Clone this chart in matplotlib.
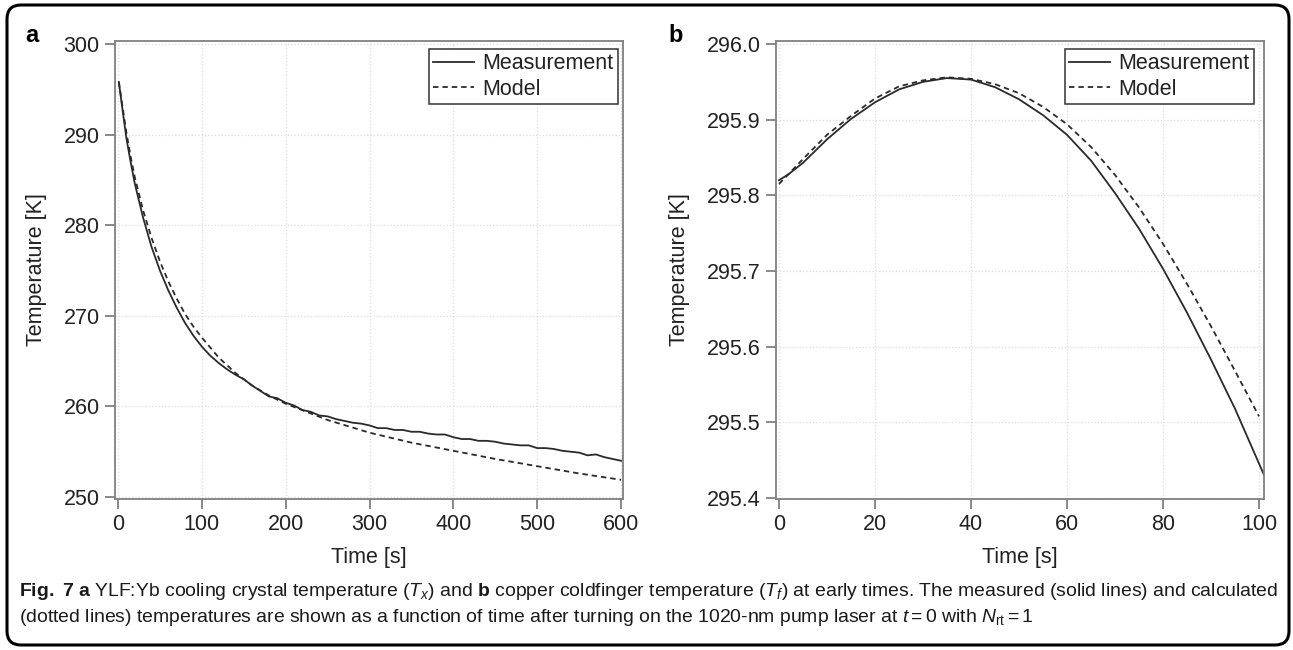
import matplotlib
matplotlib.use('Agg')
import matplotlib.pyplot as plt
from matplotlib import font_manager
from matplotlib.patches import FancyBboxPatch

# panel a: crystal temperature, 0-600 s
ta_meas = [1, 5, 10, 15, 20, 30, 40, 50, 60, 70, 80, 90, 100, 110, 120, 130, 140,
           150, 160, 170, 180, 190, 200, 210, 220, 230, 240, 250, 260, 270, 280, 290,
           300, 310, 320, 330, 340, 350, 360, 370, 380, 390, 400, 410, 420, 430, 440,
           450, 460, 470, 480, 490, 500, 510, 520, 530, 540, 550, 560, 570, 580, 590, 600]
Ta_meas = [295.8, 293.0, 289.6, 287.0, 284.6, 280.8, 277.6, 275.0, 272.8, 270.9, 269.2,
           267.8, 266.6, 265.6, 264.8, 264.1, 263.5, 263.0, 262.3, 261.7, 261.1, 260.9,
           260.4, 260.1, 259.6, 259.4, 259.0, 258.9, 258.6, 258.4, 258.2, 258.1, 257.9,
           257.6, 257.6, 257.4, 257.4, 257.2, 257.2, 257.0, 256.9, 256.9, 256.6, 256.4,
           256.4, 256.2, 256.2, 256.1, 255.9, 255.8, 255.7, 255.7, 255.4, 255.4, 255.3,
           255.1, 255.0, 254.9, 254.6, 254.7, 254.4, 254.2, 254.0]
ta_model = [1, 5, 10, 15, 20, 30, 40, 50, 60, 70, 80, 90, 100, 120, 140, 160, 180, 200,
            250, 300, 350, 400, 450, 500, 550, 600]
Ta_model = [295.8, 293.3, 290.2, 287.6, 285.3, 281.6, 278.6, 276.0, 273.8, 271.9, 270.2,
            268.8, 267.6, 265.4, 263.7, 262.3, 261.2, 260.3, 258.5, 257.1, 256.0, 255.1,
            254.2, 253.4, 252.6, 251.9]

# panel b: coldfinger temperature, 0-100 s
tb_meas = [0, 2, 5, 10, 15, 20, 25, 30, 35, 40, 45, 50, 55, 60, 65, 70, 75, 80, 85, 90, 95, 101]
Tb_meas = [295.820, 295.828, 295.843, 295.874, 295.901, 295.923, 295.940, 295.950, 295.955,
           295.953, 295.943, 295.927, 295.906, 295.880, 295.846, 295.803, 295.756, 295.703,
           295.645, 295.583, 295.518, 295.431]
tb_model = [0, 5, 10, 15, 20, 25, 30, 35, 40, 45, 50, 55, 60, 65, 70, 75, 80, 85, 90, 95, 100]
Tb_model = [295.815, 295.848, 295.880, 295.905, 295.928, 295.944, 295.952, 295.956, 295.954,
            295.947, 295.935, 295.917, 295.894, 295.864, 295.827, 295.784, 295.736, 295.683,
            295.627, 295.568, 295.508]

xticks_a = [0, 100, 200, 300, 400, 500, 600]
yticks_a = [250, 260, 270, 280, 290, 300]
xticks_b = [0, 20, 40, 60, 80, 100]
yticks_b = [295.4, 295.5, 295.6, 295.7, 295.8, 295.9, 296.0]

names = {f.name for f in font_manager.fontManager.ttflist}
main_font = 'Liberation Sans' if 'Liberation Sans' in names else 'DejaVu Sans'
cap_font = 'Liberation Sans Narrow' if 'Liberation Sans Narrow' in names else main_font

plt.rcParams['font.family'] = [main_font, 'DejaVu Sans']
plt.rcParams['mathtext.fontset'] = 'custom'
plt.rcParams['mathtext.rm'] = cap_font
plt.rcParams['mathtext.it'] = cap_font + ':italic'
plt.rcParams['mathtext.bf'] = cap_font + ':bold'

W, H = 1293, 650
fig = plt.figure(figsize=(W / 100, H / 100), dpi=100)

line_col = '#2a2a2a'
spine_col = '#808080'
fs = 15.5


def panel(left_px, width_px, t1, y1, t2, y2, xt, yt, xlim, ylim, fmt, leg_x, ylab_x):
    ax = fig.add_axes([left_px / W, 1 - 499 / H, width_px / W, 458 / H])
    ax.grid(True, color='#dcdcdc', linestyle=':', linewidth=0.9)
    ax.set_axisbelow(True)
    ax.plot(t1, y1, color=line_col, lw=1.3, label='Measurement')
    ax.plot(t2, y2, color=line_col, lw=1.3, linestyle=(0, (3, 2.2)), label='Model')
    ax.set_xlim(*xlim)
    ax.set_ylim(*ylim)
    ax.set_xticks(xt)
    ax.set_yticks(yt)
    ax.set_yticklabels([fmt.format(v) for v in yt])
    for s in ax.spines.values():
        s.set_color(spine_col)
        s.set_linewidth(1.3)
    ax.tick_params(direction='out', length=7, width=1.3, color=spine_col,
                   labelsize=fs, labelcolor='#222222', pad=4)
    ax.set_xlabel('Time [s]', fontsize=fs, color='#222222')
    ax.set_ylabel('Temperature [K]', fontsize=fs, color='#222222')
    ax.xaxis.set_label_coords(0.5, -0.105)
    ax.yaxis.set_label_coords(ylab_x, 0.5)
    leg = ax.legend(loc='upper right', bbox_to_anchor=(leg_x, 0.9825), borderaxespad=0,
                    fontsize=fs, fancybox=False, framealpha=1, handlelength=1.9,
                    handletextpad=0.4, labelspacing=0.2, borderpad=0.2)
    leg.get_frame().set_edgecolor('#333333')
    leg.get_frame().set_linewidth(1.1)
    for txt in leg.get_texts():
        txt.set_color('#222222')
    return ax


panel(115, 508, ta_meas, Ta_meas, ta_model, Ta_model, xticks_a, yticks_a,
      (-3.6, 602.4), (249.78, 300.33), '{:.0f}', 0.990, -0.134)
panel(776, 488, tb_meas, Tb_meas, tb_model, Tb_model, xticks_b, yticks_b,
      (-0.625, 101.04), (295.3987, 296.004), '{:.1f}', 0.9795, -0.176)

fig.text(32 / W, 1 - 36 / H, 'a', fontsize=17, fontweight='bold', ha='center', va='center')
fig.text(676 / W, 1 - 36 / H, 'b', fontsize=17, fontweight='bold', ha='center', va='center')

# rounded frame around the whole figure
frame = FancyBboxPatch((0.07, 0.05), 12.82, 6.40, boxstyle='round,pad=0,rounding_size=0.14',
                       transform=fig.dpi_scale_trans, fill=False, edgecolor='black', lw=2.2)
fig.add_artist(frame)

cap1 = (r'$\mathbf{Fig.\ 7\ a}$ YLF:Yb cooling crystal temperature ($T_x$) and $\mathbf{b}$ '
        r'copper coldfinger temperature ($T_f$) at early times. The measured (solid lines) and calculated')
cap2 = (r'(dotted lines) temperatures are shown as a function of time after turning on the '
        r'1020-nm pump laser at $t = 0$ with $N_{\mathrm{rt}} = 1$')
c1 = fig.text(19 / W, 1 - 592 / H, cap1, fontsize=13, family=cap_font, color='#1a1a1a', va='center')
c2 = fig.text(19 / W, 1 - 617 / H, cap2, fontsize=13, family=cap_font, color='#1a1a1a', va='center')
fig.canvas.draw()
w1 = c1.get_window_extent().width
size = 13 * 1258 / w1
c1.set_fontsize(size)
c2.set_fontsize(size)

fig.savefig('out.png', dpi=100)
